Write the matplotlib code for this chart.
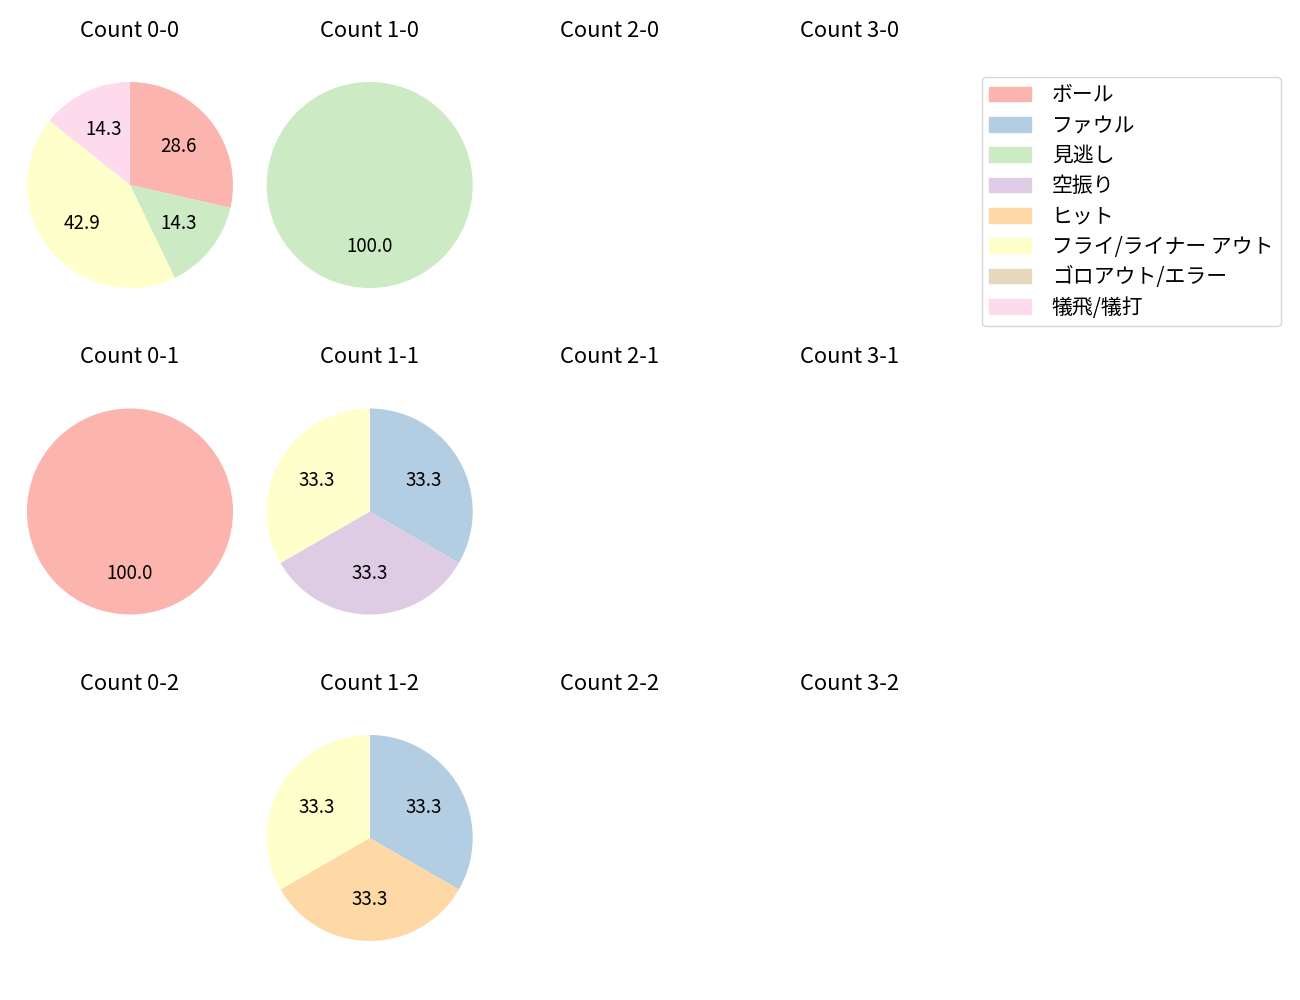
import matplotlib
matplotlib.use("Agg")
import matplotlib.pyplot as plt
from matplotlib.patches import Patch

plt.rcParams['font.family'] = ['Noto Sans CJK JP', 'DejaVu Sans']

# result categories (legend order)
results = ['ボール', 'ファウル', '見逃し', '空振り', 'ヒット',
           'フライ/ライナー アウト', 'ゴロアウト/エラー', '犠飛/犠打']
colors = ['#fbb4ae', '#b3cde3', '#ccebc5', '#decbe4',
          '#fed9a6', '#ffffcc', '#e5d8bd', '#fddaec']

balls = [0, 1, 2, 3]
strikes = [0, 1, 2]

# pitch counts per ball-strike count, same order as results
count_0_0 = [2, 0, 1, 0, 0, 3, 0, 1]
count_1_0 = [0, 0, 1, 0, 0, 0, 0, 0]
count_0_1 = [1, 0, 0, 0, 0, 0, 0, 0]
count_1_1 = [0, 1, 0, 1, 0, 1, 0, 0]
count_1_2 = [0, 1, 0, 0, 1, 1, 0, 0]
empty = [0] * 8

counts = {
    (0, 0): count_0_0, (1, 0): count_1_0, (2, 0): empty, (3, 0): empty,
    (0, 1): count_0_1, (1, 1): count_1_1, (2, 1): empty, (3, 1): empty,
    (0, 2): empty, (1, 2): count_1_2, (2, 2): empty, (3, 2): empty,
}

W, H = 1300, 1000
fig = plt.figure(figsize=(13, 10), dpi=100)

size = 257.5  # axes box in px
for s in strikes:
    for b in balls:
        cx = 130 + b * 239.7
        cy = 185 + s * 326.5
        ax = fig.add_axes([(cx - size / 2) / W, 1 - (cy + size / 2) / H,
                           size / W, size / H])
        vals = counts[(b, s)]
        v = [x for x in vals if x > 0]
        c = [colors[i] for i, x in enumerate(vals) if x > 0]
        if v:
            ax.pie(v, colors=c, autopct='%.1f', startangle=90,
                   counterclock=False, textprops={'fontsize': 13.5})
        else:
            ax.set_xlim(-1.25, 1.25)
            ax.set_ylim(-1.25, 1.25)
            ax.axis('off')
        ax.set_aspect('equal')
        ax.set_title(f'Count {b}-{s}', fontsize=15.8, pad=14.2)

handles = [Patch(color=col) for col in colors]
fig.legend(handles, results, loc='upper left',
           bbox_to_anchor=(982 / W, 1 - 77 / H), borderaxespad=0,
           fontsize=15, labelspacing=0.40, borderpad=0.35,
           handletextpad=1.0)

fig.savefig('out.png')
